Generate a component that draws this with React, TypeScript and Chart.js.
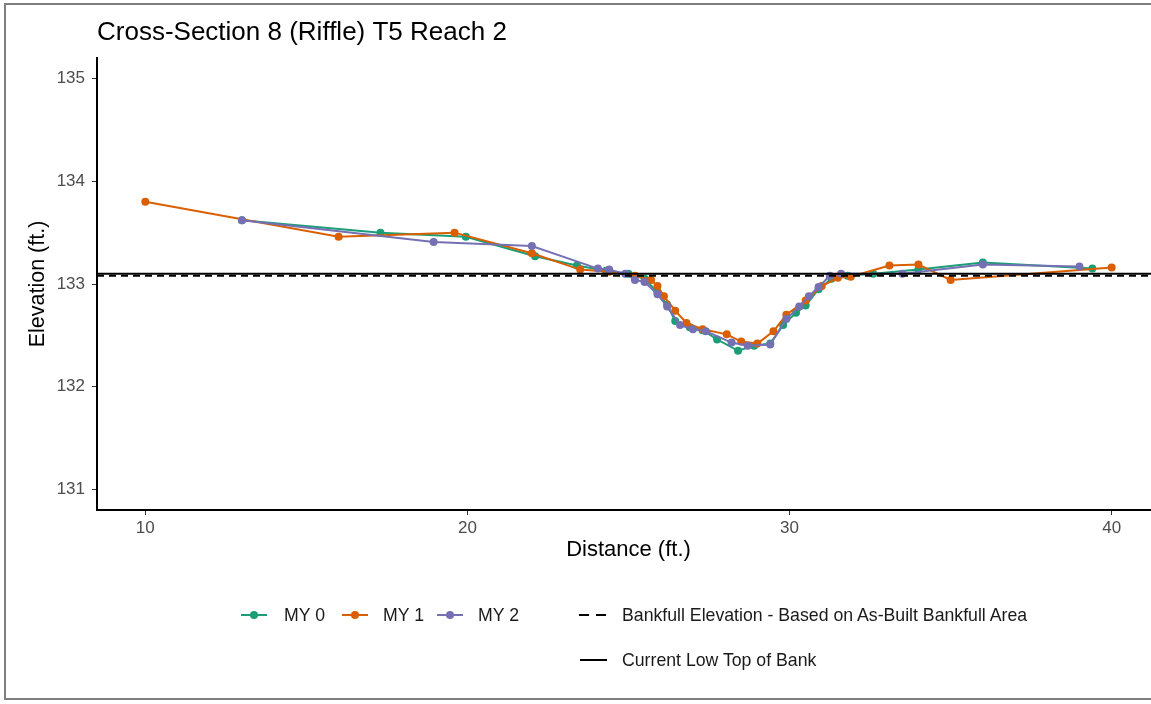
import React, { useEffect, useRef } from "react";
import { Chart, registerables } from "chart.js";

Chart.register(...registerables);

const FONT = '"Liberation Sans", Arial, Helvetica, sans-serif';

// MY 0 survey
const MY0_DIST = [13.0, 17.3, 19.95, 22.1, 23.4, 24.3, 25.0, 25.5, 25.9, 26.2, 26.45, 26.9, 27.3, 27.75, 28.4, 28.9, 29.4, 29.8, 30.2, 30.5, 30.9, 31.3, 31.8, 32.6, 34.0, 36.0, 39.4];
const MY0_ELEV = [133.62, 133.5, 133.46, 133.27, 133.18, 133.13, 133.1, 133.05, 132.92, 132.8, 132.64, 132.58, 132.55, 132.46, 132.35, 132.4, 132.42, 132.6, 132.72, 132.79, 132.95, 133.05, 133.08, 133.1, 133.14, 133.21, 133.15];

// MY 1 survey
const MY1_DIST = [10.0, 16.0, 19.6, 22.0, 23.5, 24.4, 25.2, 25.7, 25.9, 26.1, 26.45, 26.8, 27.3, 28.05, 28.5, 29.0, 29.5, 29.9, 30.5, 31.0, 31.5, 31.9, 33.1, 34.0, 35.0, 40.0];
const MY1_ELEV = [133.8, 133.46, 133.5, 133.3, 133.14, 133.12, 133.08, 133.04, 132.98, 132.88, 132.74, 132.62, 132.56, 132.51, 132.44, 132.42, 132.54, 132.7, 132.84, 132.98, 133.06, 133.07, 133.18, 133.19, 133.04, 133.16];

// MY 2 survey
const MY2_DIST = [13.0, 18.95, 22.0, 24.05, 24.4, 24.9, 25.2, 25.5, 25.9, 26.2, 26.6, 27.0, 27.4, 28.2, 28.7, 29.4, 29.9, 30.3, 30.6, 30.9, 31.25, 31.6, 33.5, 36.0, 39.0];
const MY2_ELEV = [133.62, 133.41, 133.37, 133.15, 133.14, 133.1, 133.04, 133.02, 132.9, 132.78, 132.6, 132.56, 132.54, 132.43, 132.4, 132.41, 132.66, 132.78, 132.88, 132.97, 133.08, 133.1, 133.1, 133.19, 133.17];

const BANKFULL_ELEV = 133.08;
const LOW_TOB_ELEV = 133.1;

const X_TICKS = [10, 20, 30, 40];
const Y_TICKS = [131, 132, 133, 134, 135];
const X_MIN = 8.5;
const X_MAX = 41.5;
const Y_MIN = 130.8;
const Y_MAX = 135.2;

const SERIES_NAMES = ["MY 0", "MY 1", "MY 2"];
const SERIES_COLORS = ["#1B9E77", "#D95F02", "#7570B3"];
const BANKFULL_LABEL = "Bankfull Elevation - Based on As-Built Bankfull Area";
const TOB_LABEL = "Current Low Top of Bank";

const toPts = (xs: number[], ys: number[]) => xs.map((x, i) => ({ x, y: ys[i] }));

function Swatch({ left, top, color, dot }: { left: number; top: number; color: string; dot: boolean }) {
  return (
    <div style={{ position: "absolute", left, top, width: 26, height: 8 }}>
      <div style={{ position: "absolute", left: 0, top: 3, width: 26, height: 2, background: color }} />
      {dot ? (
        <div style={{ position: "absolute", left: 9, top: 0, width: 8, height: 8, borderRadius: "50%", background: color }} />
      ) : null}
    </div>
  );
}

export default function App() {
  const ref = useRef<HTMLCanvasElement | null>(null);

  useEffect(() => {
    if (!ref.current) return;
    const mk = (i: number, xs: number[], ys: number[], order: number) => ({
      label: SERIES_NAMES[i],
      data: toPts(xs, ys),
      borderColor: SERIES_COLORS[i],
      backgroundColor: SERIES_COLORS[i],
      borderWidth: 2,
      pointRadius: 4,
      pointBorderWidth: 0,
      pointBackgroundColor: SERIES_COLORS[i],
      tension: 0,
      order,
    });
    const chart = new Chart(ref.current, {
      type: "line",
      data: {
        datasets: [
          mk(0, MY0_DIST, MY0_ELEV, 4),
          mk(1, MY1_DIST, MY1_ELEV, 3),
          mk(2, MY2_DIST, MY2_ELEV, 2),
          {
            label: BANKFULL_LABEL,
            data: [{ x: X_MIN, y: BANKFULL_ELEV }, { x: X_MAX, y: BANKFULL_ELEV }],
            borderColor: "#000",
            borderWidth: 2,
            borderDash: [7, 5],
            pointRadius: 0,
            order: 1,
          },
          {
            label: TOB_LABEL,
            data: [{ x: X_MIN, y: LOW_TOB_ELEV }, { x: X_MAX, y: LOW_TOB_ELEV }],
            borderColor: "#000",
            borderWidth: 2,
            pointRadius: 0,
            order: 0,
          },
        ] as any,
      },
      options: {
        animation: false,
        responsive: false,
        devicePixelRatio: 1,
        layout: { padding: { left: 0, right: 10, top: 0, bottom: 134 } },
        plugins: {
          legend: { display: false },
          tooltip: { enabled: false },
          title: {
            display: true,
            text: "Cross-Section 8 (Riffle) T5 Reach 2",
            align: "start",
            fullSize: false,
            color: "#000",
            font: { family: FONT, size: 26, weight: "normal" as any },
            padding: { top: 17.5, bottom: 9.3 },
          },
        },
        scales: {
          x: {
            type: "linear",
            min: X_MIN,
            max: X_MAX,
            afterBuildTicks: (s: any) => {
              s.ticks = X_TICKS.map((v) => ({ value: v }));
            },
            afterFit: (s: any) => {
              s.height = 60;
            },
            grid: { drawOnChartArea: false, drawTicks: true, tickLength: 5, color: "#333", lineWidth: 1 },
            border: { display: true, color: "#000", width: 2 },
            ticks: { color: "#4D4D4D", font: { family: FONT, size: 17 }, padding: 3, maxRotation: 0, autoSkip: false },
            title: {
              display: true,
              text: "Distance (ft.)",
              color: "#000",
              font: { family: FONT, size: 22 },
              padding: { top: 0, bottom: 7 },
            },
          },
          y: {
            type: "linear",
            min: Y_MIN,
            max: Y_MAX,
            afterBuildTicks: (s: any) => {
              s.ticks = Y_TICKS.map((v) => ({ value: v }));
            },
            afterFit: (s: any) => {
              s.width = 97;
            },
            grid: { drawOnChartArea: false, drawTicks: true, tickLength: 5, color: "#333", lineWidth: 1 },
            border: { display: true, color: "#000", width: 2 },
            ticks: { color: "#4D4D4D", font: { family: FONT, size: 17 }, padding: 7, autoSkip: false },
            title: {
              display: true,
              text: "Elevation (ft.)",
              color: "#000",
              font: { family: FONT, size: 21.5 },
              padding: { top: 25, bottom: 0 },
            },
          },
        },
      } as any,
    });
    return () => chart.destroy();
  }, []);

  const txt = (left: number, top: number, s: string) => (
    <div
      style={{
        position: "absolute",
        left,
        top,
        fontFamily: FONT,
        fontSize: 17.7,
        lineHeight: "20px",
        color: "#1a1a1a",
        whiteSpace: "nowrap",
      }}
    >
      {s}
    </div>
  );

  return (
    <div
      style={{
        position: "fixed",
        left: 0,
        top: 0,
        width: 1151,
        height: 704,
        overflow: "hidden",
        background: "#fff",
      }}
    >
      <canvas ref={ref} width={1170} height={704} style={{ position: "absolute", left: 0, top: 0, width: 1170, height: 704 }} />
      <div
        style={{
          position: "absolute",
          left: 4,
          top: 3,
          width: 1170,
          height: 697,
          border: "2px solid #7f7f7f",
          boxSizing: "border-box",
          pointerEvents: "none",
        }}
      />
      <Swatch left={241} top={611} color={SERIES_COLORS[0]} dot />
      {txt(284, 605, SERIES_NAMES[0])}
      <Swatch left={342} top={611} color={SERIES_COLORS[1]} dot />
      {txt(383, 605, SERIES_NAMES[1])}
      <Swatch left={437} top={611} color={SERIES_COLORS[2]} dot />
      {txt(478, 605, SERIES_NAMES[2])}
      <div style={{ position: "absolute", left: 579, top: 614, width: 10, height: 2, background: "#000" }} />
      <div style={{ position: "absolute", left: 596, top: 614, width: 10, height: 2, background: "#000" }} />
      {txt(622, 605, BANKFULL_LABEL)}
      <div style={{ position: "absolute", left: 580, top: 659, width: 27, height: 2, background: "#000" }} />
      {txt(622, 650, TOB_LABEL)}
    </div>
  );
}
